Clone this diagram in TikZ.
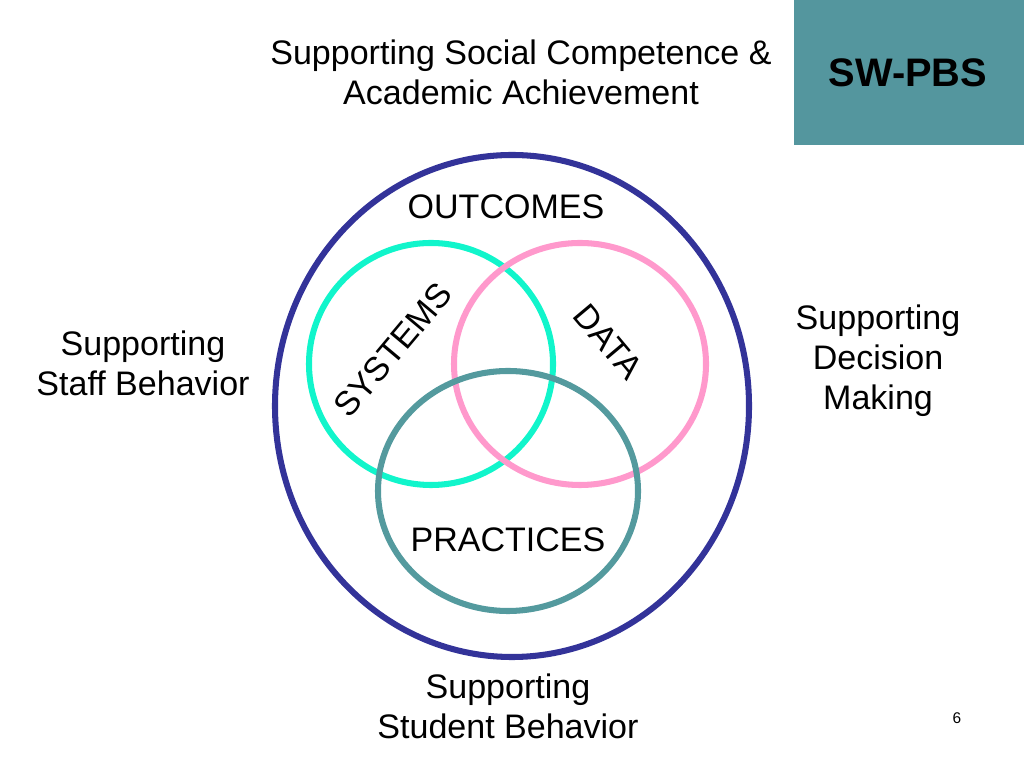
\documentclass[tikz,border=0pt]{standalone}
\usepackage{fontspec}
\setmainfont{Liberation Sans}
\definecolor{pbsteal}{HTML}{54969E}
\definecolor{ringblue}{HTML}{333399}
\definecolor{ringgreen}{HTML}{11F5CB}
\definecolor{ringpink}{HTML}{FF99CC}
\definecolor{ringteal}{HTML}{549A9E}
\begin{document}
\begin{tikzpicture}[x=0.025cm, y=0.025cm,
  every node/.style={font=\fontsize{24.2pt}{28.5pt}\selectfont, align=center, inner sep=0pt},
  ring/.style={line width=4.3pt}]
  \useasboundingbox (0,0) rectangle (1024,768);

  % corner box
  \fill[pbsteal] (794,623) rectangle (1024,768);
  \node[font=\fontsize{28.3pt}{32pt}\selectfont\bfseries] (tag) at (908,695) {SW-PBS};

  % title
  \node (title) at (521,696) {Supporting Social Competence \&\\Academic Achievement};

  % outer ring and the three circles
  \draw[ring, ringblue] (512,362) ellipse [x radius=237, y radius=251];
  \draw[ring, ringgreen] (431,404) ellipse [x radius=122, y radius=121];
  \draw[ring, ringpink] (580,404) ellipse [x radius=126, y radius=121];
  \draw[ring, ringteal] (508,277) ellipse [x radius=130, y radius=120];

  % circle labels
  \node (outcomes) at (506,561) {OUTCOMES};
  \node[rotate=50] (systems) at (393,418) {SYSTEMS};
  \node[rotate=-50] (data) at (608,426) {DATA};
  \node (practices) at (508,228) {PRACTICES};

  % side labels
  \node (staff) at (143,405) {Supporting\\Staff Behavior};
  \node (decision) at (878,407) {Supporting\\Decision\\Making};
  \node (student) at (508,62) {Supporting\\Student Behavior};

  \node[font=\fontsize{11pt}{13pt}\selectfont] (page) at (957,50) {6};
\end{tikzpicture}
\end{document}
